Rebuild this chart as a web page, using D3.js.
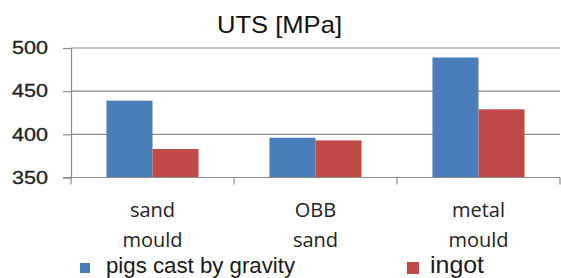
<!DOCTYPE html>
<html>
<head>
<meta charset="utf-8">
<script src="https://cdn.jsdelivr.net/npm/d3@7"></script>
<style>
  body { margin: 0; background: #fff; }
  svg { display: block; }
</style>
</head>
<body>
<svg class="chart"></svg>
<script>
const graphWidth = 561;
const graphHeight = 278;

// chart data
const categories = [['sand', 'mould'], ['OBB', 'sand'], ['metal', 'mould']];
const seriesNames = ['pigs cast by gravity', 'ingot'];
const pigsValues = [439, 396, 489];
const ingotValues = [383, 393, 429];
const yTicks = [350, 400, 450, 500];

const colors = ['#4a7ebb', '#be4b48'];
const margin = { top: 48, right: 1, bottom: 100.5, left: 71 };

const svg = d3
  .select('.chart')
  .attr('width', graphWidth)
  .attr('height', graphHeight);

const data = categories.map((c, i) => ({
  key: c.join(' '),
  label: c,
  values: [pigsValues[i], ingotValues[i]]
}));

const x0 = d3
  .scaleBand()
  .domain(data.map(d => d.key))
  .range([margin.left, graphWidth - margin.right])
  .paddingInner(0.435)
  .paddingOuter(0.2175);

const x1 = d3
  .scaleBand()
  .domain(d3.range(seriesNames.length))
  .range([0, x0.bandwidth()]);

const y = d3
  .scaleLinear()
  .domain([350, 500])
  .range([graphHeight - margin.bottom, margin.top]);

//Title
svg
  .append('text')
  .attr('x', 279.5)
  .attr('y', 33)
  .attr('text-anchor', 'middle')
  .attr('textLength', 125)
  .attr('lengthAdjust', 'spacingAndGlyphs')
  .style('font-family', 'Liberation Sans, Arial, sans-serif')
  .style('font-size', '24px')
  .style('fill', '#111')
  .text('UTS [MPa]');

//Gridlines
svg
  .append('g')
  .selectAll('line')
  .data(yTicks.slice(1))
  .enter()
  .append('line')
  .attr('x1', margin.left)
  .attr('x2', graphWidth - margin.right)
  .attr('y1', d => y(d))
  .attr('y2', d => y(d))
  .attr('stroke', '#8c8c8c')
  .attr('stroke-width', 1.2);

//Bars
svg
  .append('g')
  .selectAll('g')
  .data(data)
  .enter()
  .append('g')
  .attr('transform', d => 'translate(' + x0(d.key) + ',0)')
  .selectAll('rect')
  .data(d => d.values)
  .enter()
  .append('rect')
  .attr('x', (d, i) => x1(i))
  .attr('width', x1.bandwidth())
  .attr('y', d => y(d))
  .attr('height', d => y(350) - y(d))
  .attr('fill', (d, i) => colors[i]);

//Y axis
const yAxis = svg
  .append('g')
  .attr('transform', 'translate(' + margin.left + ',0)')
  .call(d3.axisLeft(y).tickValues(yTicks).tickSize(8).tickPadding(15).tickFormat(d3.format('d')));
yAxis.selectAll('line, path').attr('stroke', '#8c8c8c').attr('stroke-width', 1.2);
yAxis
  .selectAll('text')
  .attr('textLength', 36)
  .attr('lengthAdjust', 'spacingAndGlyphs')
  .style('font-family', 'Liberation Sans, Arial, sans-serif')
  .style('font-size', '18px')
  .style('stroke', '#222')
  .style('stroke-width', 0.3)
  .style('fill', '#222');

//X axis with ticks between categories
const xAxis = svg.append('g').attr('transform', 'translate(0,' + y(350) + ')');
xAxis
  .append('line')
  .attr('x1', margin.left - 8)
  .attr('x2', graphWidth - margin.right)
  .attr('stroke', '#8c8c8c')
  .attr('stroke-width', 1.2);
const step = x0.step();
xAxis
  .selectAll('.tick')
  .data(d3.range(data.length + 1))
  .enter()
  .append('line')
  .attr('class', 'tick')
  .attr('x1', i => margin.left + i * step)
  .attr('x2', i => margin.left + i * step)
  .attr('y1', 0)
  .attr('y2', 7)
  .attr('stroke', '#8c8c8c')
  .attr('stroke-width', 1.2);

const labels = svg
  .append('g')
  .selectAll('text')
  .data(data)
  .enter()
  .append('text')
  .attr('text-anchor', 'middle')
  .style('font-family', 'Open Sans, sans-serif')
  .style('font-size', '20px')
  .style('fill', '#222');
labels
  .selectAll('tspan')
  .data(d => d.label.map(t => ({ key: d.key, t })))
  .enter()
  .append('tspan')
  .attr('x', d => x0(d.key) + x0.bandwidth() / 2)
  .attr('y', (d, i) => 217 + i * 29.5)
  .text(d => d.t);

//Legend
const legend = [
  { x: 80, size: 10, textX: 106, fontSize: 22, width: 189 },
  { x: 407, size: 12, textX: 430, fontSize: 24, width: 54 }
];
const items = svg
  .append('g')
  .selectAll('g')
  .data(seriesNames)
  .enter()
  .append('g');
items
  .append('rect')
  .attr('x', (d, i) => legend[i].x)
  .attr('y', (d, i) => 268 - legend[i].size / 2)
  .attr('width', (d, i) => legend[i].size)
  .attr('height', (d, i) => legend[i].size)
  .attr('fill', (d, i) => colors[i]);
items
  .append('text')
  .attr('x', (d, i) => legend[i].textX)
  .attr('y', 273)
  .attr('textLength', (d, i) => legend[i].width)
  .attr('lengthAdjust', 'spacingAndGlyphs')
  .style('font-family', 'Liberation Sans, Arial, sans-serif')
  .style('font-size', (d, i) => legend[i].fontSize + 'px')
  .style('fill', '#1a1a1a')
  .text(d => d);
</script>
</body>
</html>
